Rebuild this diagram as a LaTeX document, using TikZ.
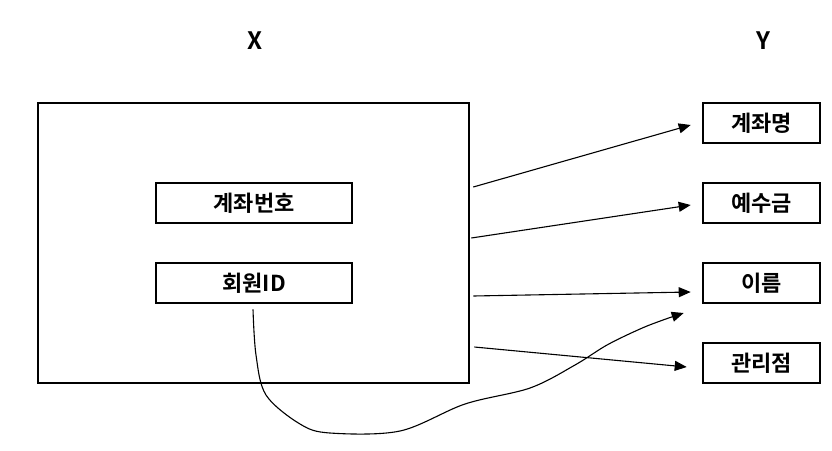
\documentclass[tikz,border=0pt]{standalone}
\usepackage{fontspec}
\usepackage{tikz}
\usetikzlibrary{arrows.meta,positioning,calc}
\newfontfamily\krfont{Noto Sans CJK KR}[BoldFont={* Bold}]
\definecolor{ink}{HTML}{000000}
\tikzset{
  attr/.style={rectangle, draw=ink, fill=white, line width=2.6pt, inner sep=0pt,
               minimum width=196pt, minimum height=40pt, font=\krfont\bfseries\fontsize{22}{24}\selectfont},
  target/.style={attr, minimum width=117pt},
  frame/.style={rectangle, draw=ink, line width=2.6pt, inner sep=0pt, minimum width=431pt, minimum height=280pt},
  setlbl/.style={font=\krfont\bfseries\fontsize{24}{26}\selectfont},
  flow/.style={-{Triangle[length=12pt,width=10pt]}, draw=ink, line width=1.1pt}
}
\begin{document}
\begin{tikzpicture}[x=1pt, y=-1pt]
  \useasboundingbox (0,0) rectangle (832,450);

  % the two sets
  \node[setlbl] (xlbl) at (255,41) {X};
  \node[setlbl] (ylbl) at (763.5,41) {Y};

  \node[frame] (frame) at (253.5,243) {};
  \node[attr] (acctno) at (254,203) {계좌번호};
  \node[attr] (memberid) at (254,283) {회원ID};

  \node[target] (acctname) at (761.5,123) {계좌명};
  \node[target] (deposit) at (761.5,203) {예수금};
  \node[target] (name) at (761.5,283) {이름};
  \node[target] (branch) at (761.5,363) {관리점};

  % dependencies
  \draw[flow] ([xshift=3pt,yshift=56pt]frame.east) -- ([xshift=-11pt,yshift=-2pt]acctname.west);
  \draw[flow] ([xshift=1pt,yshift=5pt]frame.east) -- ([xshift=-11pt,yshift=-2pt]deposit.west);
  \draw[flow] ([xshift=3pt,yshift=-53pt]frame.east) -- ([xshift=-11pt,yshift=-9pt]name.west);
  \draw[flow] ([xshift=4pt,yshift=-104pt]frame.east) -- ([xshift=-15pt,yshift=-4pt]branch.west);

  \coordinate (curveend) at ([xshift=-18pt,yshift=-30pt]name.west);
  \draw[flow] plot[smooth, tension=0.55] coordinates {([xshift=-1pt,yshift=-5pt]memberid.south)
    (256,355) (266,395) (300,424) (330,433) (400,431) (465,404) (530,388) (575,365)
    (607,345) (640,329) (663,320) (curveend)};
\end{tikzpicture}
\end{document}
